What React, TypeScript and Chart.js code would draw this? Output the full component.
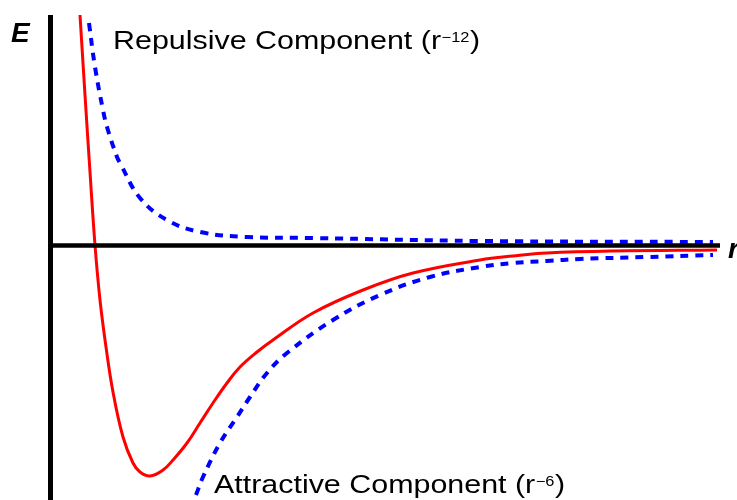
import React, { useEffect, useRef } from "react";
import { Chart, registerables } from "chart.js";

Chart.register(...registerables);

// Lennard-Jones potential (solid red): r, E
const ljR = [0.30, 0.35, 0.40, 0.45, 0.50, 0.56, 0.63, 0.73, 0.83, 0.90, 1.00, 1.13, 1.23, 1.37, 1.50, 1.63, 1.77, 1.90, 2.07, 2.23, 2.63, 3.13, 3.63, 4.30, 4.63, 4.97, 5.63, 6.67];
const ljE = [2.30, 1.50, 0.73, 0.0, -0.55, -1.02, -1.47, -1.92, -2.18, -2.27, -2.31, -2.25, -2.15, -1.98, -1.78, -1.58, -1.38, -1.22, -1.07, -0.95, -0.68, -0.45, -0.28, -0.15, -0.11, -0.08, -0.06, -0.05];

// Repulsive component r^-12 (dashed blue)
const repR = [0.39, 0.45, 0.53, 0.57, 0.67, 0.70, 0.90, 1.17, 1.50, 1.97, 2.63, 4.30, 6.63];
const repE = [2.22, 1.78, 1.35, 1.18, 0.88, 0.82, 0.47, 0.25, 0.13, 0.08, 0.07, 0.04, 0.03];

// Attractive component r^-6 (dashed blue)
const attR = [1.46, 1.53, 1.70, 1.87, 2.00, 2.17, 2.37, 2.83, 3.30, 3.80, 4.30, 4.63, 4.97, 5.30, 5.97, 6.63];
const attE = [-2.50, -2.32, -1.98, -1.72, -1.52, -1.28, -1.08, -0.75, -0.50, -0.32, -0.22, -0.18, -0.16, -0.14, -0.12, -0.10];

// Axis lines
const eAxisR = [0.005, 0.005];
const eAxisE = [2.30, -2.60];
const rAxisR = [0.0, 6.70];
const rAxisE = [-0.005, -0.005];

const xRange = [-0.5, 6.87];
const yRange = [-2.55, 2.45];

const repLabel = ["Repulsive Component (r", "\u221212", ")"];
const attLabel = ["Attractive Component (r", "\u22126", ")"];
const eLabel = "E";
const rLabel = "r";

const pts = (xs: number[], ys: number[]) => xs.map((x, i) => ({ x, y: ys[i] }));

const textPlugin = {
  id: "labels",
  afterDraw(chart: any) {
    const ctx = chart.ctx as CanvasRenderingContext2D;
    const drawSup = (parts: string[], x: number, y: number) => {
      ctx.save();
      ctx.translate(x, y);
      ctx.scale(1.17, 1);
      ctx.font = "26px 'Liberation Sans', Arial, sans-serif";
      ctx.fillStyle = "#000";
      ctx.textBaseline = "alphabetic";
      ctx.textAlign = "left";
      ctx.fillText(parts[0], 0, 0);
      let cx = ctx.measureText(parts[0]).width + 0.5;
      ctx.font = "14px 'Liberation Sans', Arial, sans-serif";
      ctx.fillText(parts[1], cx, -7);
      cx += ctx.measureText(parts[1]).width + 0.5;
      ctx.font = "26px 'Liberation Sans', Arial, sans-serif";
      ctx.fillText(parts[2], cx, 0);
      ctx.restore();
    };
    drawSup(repLabel, 113, 49);
    drawSup(attLabel, 214, 493);
    ctx.save();
    ctx.font = "italic bold 28px 'Liberation Sans', Arial, sans-serif";
    ctx.fillStyle = "#000";
    ctx.textBaseline = "alphabetic";
    ctx.textAlign = "left";
    ctx.fillText(eLabel, 11, 42);
    ctx.fillText(rLabel, 728, 258);
    ctx.restore();
  },
};

export default function App() {
  const ref = useRef<HTMLCanvasElement>(null);
  useEffect(() => {
    document.body.style.margin = "0";
    const chart = new Chart(ref.current!, {
      type: "line",
      data: {
        datasets: [
          {
            data: pts(eAxisR, eAxisE),
            borderColor: "#000",
            borderWidth: 5,
            pointRadius: 0,
            tension: 0,
          },
          {
            data: pts(rAxisR, rAxisE),
            borderColor: "#000",
            borderWidth: 4.5,
            pointRadius: 0,
            tension: 0,
          },
          {
            data: pts(repR, repE),
            borderColor: "#0000ff",
            borderWidth: 4,
            borderDash: [8, 7],
            pointRadius: 0,
            tension: 0.4,
          },
          {
            data: pts(attR, attE),
            borderColor: "#0000ff",
            borderWidth: 4,
            borderDash: [8, 7],
            pointRadius: 0,
            tension: 0.4,
          },
          {
            data: pts(ljR, ljE),
            borderColor: "#ff0000",
            borderWidth: 3,
            pointRadius: 0,
            tension: 0.4,
          },
        ],
      },
      options: {
        animation: false,
        responsive: false,
        maintainAspectRatio: false,
        layout: { padding: 0 },
        plugins: { legend: { display: false }, tooltip: { enabled: false }, title: { display: false } },
        scales: {
          x: { type: "linear", min: xRange[0], max: xRange[1], display: false },
          y: { type: "linear", min: yRange[0], max: yRange[1], display: false },
        },
      },
      plugins: [textPlugin],
    });
    return () => chart.destroy();
  }, []);
  return (
    <div style={{ position: "absolute", left: 0, top: 0, width: 737, height: 500, background: "#fff" }}>
      <canvas ref={ref} width={737} height={500} style={{ display: "block" }} />
    </div>
  );
}
